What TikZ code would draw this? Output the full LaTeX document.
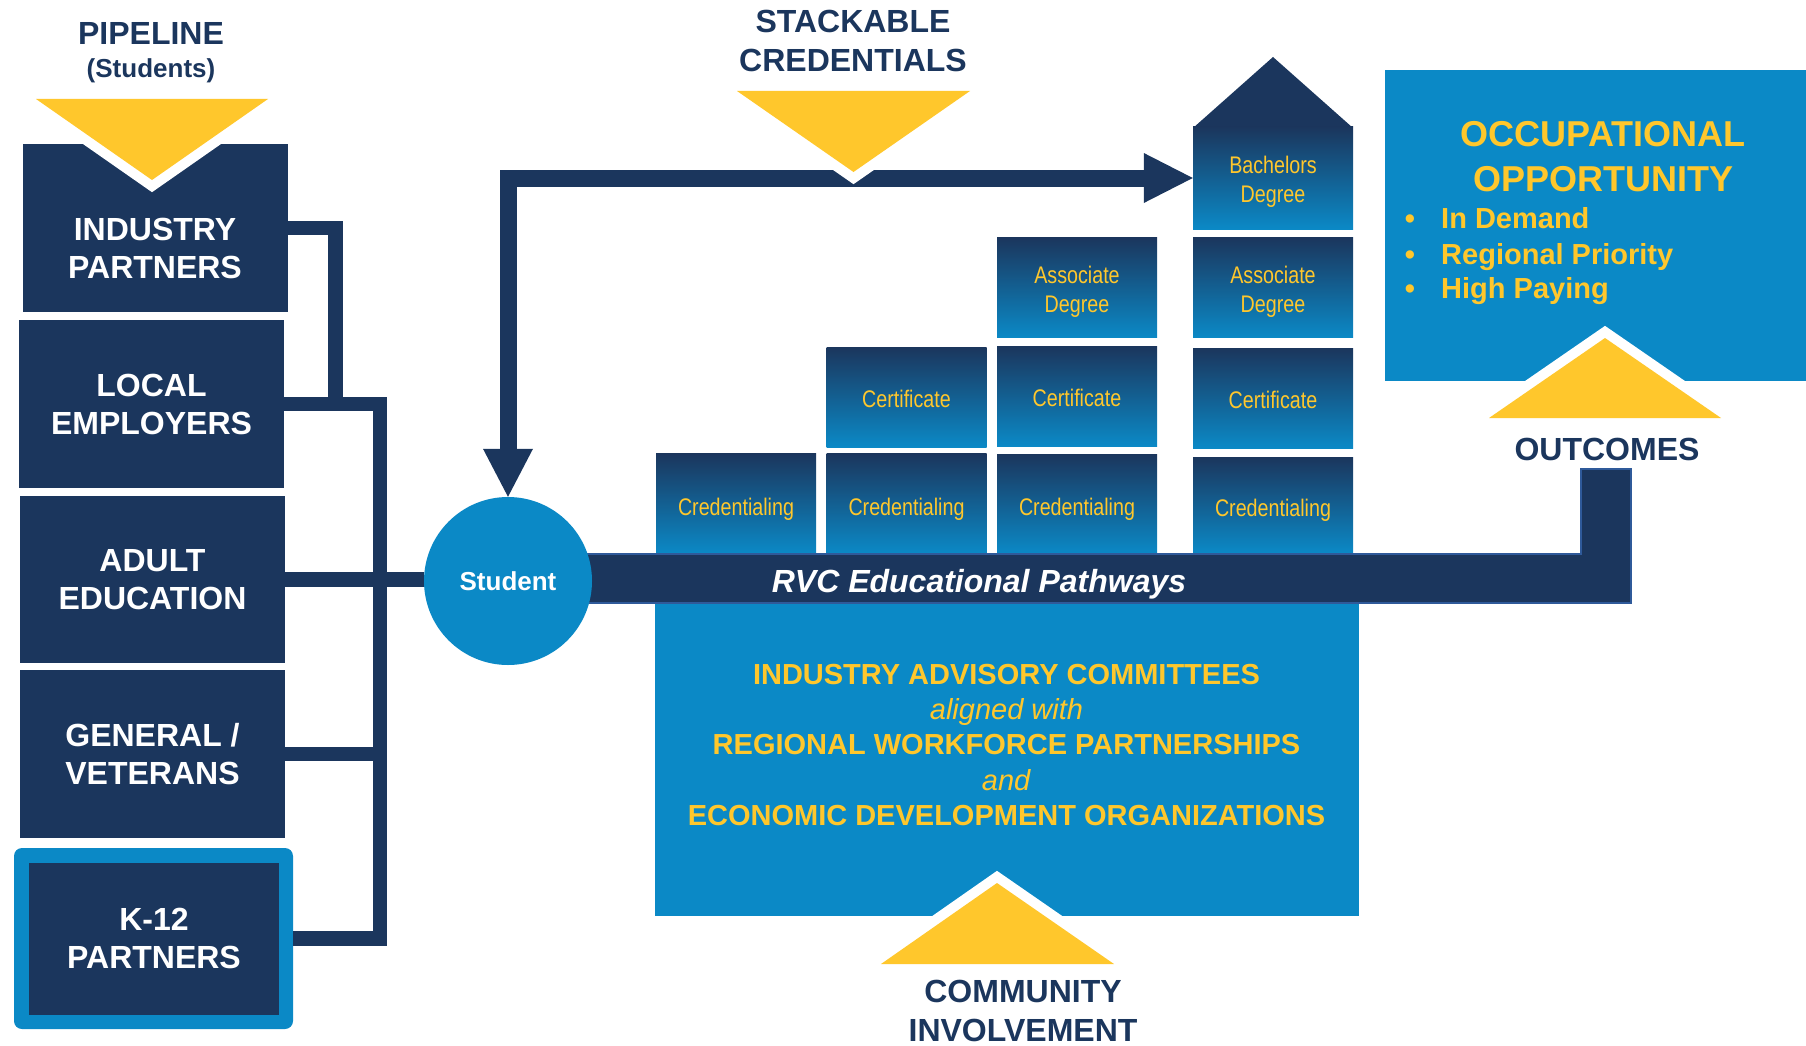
\documentclass[tikz,border=0pt]{standalone}
\usepackage{fontspec}
\setmainfont{Liberation Sans}
\newfontfamily\narrowfont[FakeStretch=0.82]{Liberation Sans}
\usetikzlibrary{arrows.meta}
\definecolor{navy}{HTML}{1B365D}
\definecolor{rvcblue}{HTML}{0B89C6}
\definecolor{gold}{HTML}{FFC72C}
\definecolor{barline}{HTML}{2F5A9A}
\begin{document}
\begin{tikzpicture}[x=1pt,y=-1pt,
  sidebox/.style={fill=navy, minimum width=265pt, minimum height=168pt, inner sep=0pt, text=white, align=center, font=\bfseries\fontsize{32}{38}\selectfont},
  cred/.style={top color=navy, bottom color=rvcblue, minimum width=160pt, minimum height=100pt, inner sep=0pt, text=gold, align=center, font=\narrowfont\fontsize{24}{29}\selectfont},
  conn/.style={draw=navy, line width=14.5pt},
  head/.style={text=navy, font=\bfseries\fontsize{32}{38.5}\selectfont, align=center, inner sep=0pt},
  wtri/.style={fill=white, draw=white, line width=20pt, line join=miter},
  goldtxt/.style={text=gold, inner sep=0pt},
]
\useasboundingbox (0,0) rectangle (1806,1046);

% ---- left pipeline boxes
\node[sidebox] (ind) at (155.5,228) {};
\node[sidebox] (loc) at (151.5,404) {LOCAL\\EMPLOYERS};
\node[sidebox, minimum height=167pt] (adu) at (152.5,579.5) {ADULT\\EDUCATION};
\node[sidebox] (gen) at (152.5,754) {GENERAL /\\VETERANS};
\node[fill=rvcblue, rounded corners=8pt, minimum width=279pt, minimum height=181pt, inner sep=0pt] (k12) at (153.5,938.5) {};
\node[sidebox, minimum width=250pt, minimum height=152pt] (k12in) at (154,938.5) {K-12\\PARTNERS};

% pipeline triangle
\path[wtri] (36,99) -- (268,99) -- (152,180) -- cycle;
\fill[gold] (36,99) -- (268,99) -- (152,180) -- cycle;
\node[head, anchor=base] (pipe) at (151,45) {PIPELINE};
\node[text=navy, font=\bfseries\fontsize{26}{30}\selectfont, anchor=base, inner sep=0pt] (pipes) at (151,78) {(Students)};
\node[text=white, font=\bfseries\fontsize{32}{38}\selectfont, align=center, inner sep=0pt] (indt) at (155,248) {INDUSTRY\\PARTNERS};

% ---- committee box
\node[fill=rvcblue, minimum width=704pt, minimum height=314pt, inner sep=0pt] (com) at (1007,759) {};
\node[goldtxt, align=center, font=\fontsize{29}{35.25}\selectfont] (comt) at (1006.5,745) {\textbf{INDUSTRY ADVISORY COMMITTEES}\\\textit{aligned with}\\\textbf{REGIONAL WORKFORCE PARTNERSHIPS}\\\textit{and}\\\textbf{ECONOMIC DEVELOPMENT ORGANIZATIONS}};
\path[wtri] (881,964) -- (1114,964) -- (997,883) -- cycle;
\fill[gold] (881,964) -- (1114,964) -- (997,883) -- cycle;
\node[head] (comm) at (1023,1011) {COMMUNITY\\INVOLVEMENT};

% ---- outcomes box
\node[fill=rvcblue, minimum width=421pt, minimum height=311pt, inner sep=0pt] (occ) at (1595.5,225.5) {};
\node[goldtxt, align=center, font=\bfseries\fontsize{36}{45}\selectfont] (occt) at (1603,157) {OCCUPATIONAL\\OPPORTUNITY};
\node[goldtxt, font=\bfseries\fontsize{29}{35}\selectfont, anchor=base] (bu1) at (1410,228) {•};
\node[goldtxt, font=\bfseries\fontsize{29}{35}\selectfont, anchor=base] (bu2) at (1410,264) {•};
\node[goldtxt, font=\bfseries\fontsize{29}{35}\selectfont, anchor=base] (bu3) at (1410,298) {•};
\node[goldtxt, font=\bfseries\fontsize{29}{35}\selectfont, anchor=base west] (it1) at (1441,228) {In Demand};
\node[goldtxt, font=\bfseries\fontsize{29}{35}\selectfont, anchor=base west] (it2) at (1441,264) {Regional Priority};
\node[goldtxt, font=\bfseries\fontsize{29}{35}\selectfont, anchor=base west] (it3) at (1441,298) {High Paying};
\path[wtri] (1489,418) -- (1721,418) -- (1605,338) -- cycle;
\fill[gold] (1489,418) -- (1721,418) -- (1605,338) -- cycle;
\node[head, anchor=base] (outc) at (1607,460) {OUTCOMES};

% ---- stacked credentials
\node[cred, text height=23pt, text depth=0pt] (cr1) at (736,503.5) {Credentialing};
\node[cred, text height=23pt, text depth=0pt] (cr2) at (906.5,503.5) {Credentialing};
\node[cred, text height=23pt, text depth=0pt] (cr3) at (1077,504) {Credentialing};
\node[cred, text height=23pt, text depth=0pt, minimum height=96pt] (cr4) at (1273,505) {Credentialing};
\node[cred, text height=20pt, text depth=0pt] (ce2) at (906.5,397) {Certificate};
\node[cred, text height=20pt, text depth=0pt] (ce3) at (1077,396) {Certificate};
\node[cred, text height=20pt, text depth=0pt] (ce4) at (1273,398) {Certificate};
\node[cred] (as3) at (1077,287.5) {\rule{0pt}{25.5pt}Associate\\Degree};
\node[cred] (as4) at (1273,287.5) {\rule{0pt}{25.5pt}Associate\\Degree};
\fill[navy] (1193,128) -- (1273,57) -- (1353,128) -- cycle;
\node[cred, minimum height=102pt] (bach) at (1273,178) {\rule{0pt}{25.5pt}Bachelors\\Degree};

% ---- pathway bar
\filldraw[fill=navy, draw=barline, line width=2pt] (508,554) -- (1581,554) -- (1581,469) -- (1631,469) -- (1631,603) -- (508,603) -- cycle;
\node[text=white, font=\bfseries\itshape\fontsize{32}{38}\selectfont, anchor=base, inner sep=0pt] (rvc) at (979,592) {RVC Educational Pathways};

% ---- student
\node[circle, fill=rvcblue, minimum size=168pt, inner sep=0pt, text=white, font=\bfseries\fontsize{26}{30}\selectfont] (stu) at (508,581) {Student};

% ---- connectors
\coordinate (jA) at (335.5,404);
\coordinate (jB) at (380,404);
\coordinate (jC) at (380,938.5);
\draw[conn] (ind.east) -| (jA);
\draw[conn] (loc.east) -- (jB) -- (jC) -- (k12.east);
\draw[conn] (gen.east) -- (gen.east -| jB);
\draw[conn] (adu.east) -- (adu.east -| stu.west);

\draw[navy, line width=17pt, {Triangle[length=48pt,width=50pt,line width=0pt]}-{Triangle[length=49pt,width=50pt,line width=0pt]}] (stu.north) |- (bach.west);

% stackable triangle
\path[wtri] (737,91) -- (970,91) -- (853.5,172) -- cycle;
\fill[gold] (737,91) -- (970,91) -- (853.5,172) -- cycle;
\node[head] (stk) at (853,41) {STACKABLE\\CREDENTIALS};
\end{tikzpicture}
\end{document}
